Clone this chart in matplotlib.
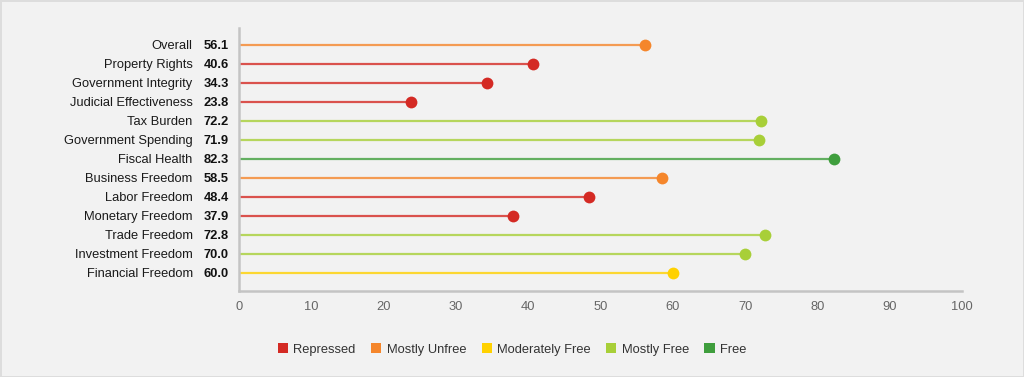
import matplotlib.pyplot as plt
from matplotlib.patches import Patch

plt.rcParams['font.family'] = ['Liberation Sans', 'DejaVu Sans']

categories = ['Overall', 'Property Rights', 'Government Integrity', 'Judicial Effectiveness',
              'Tax Burden', 'Government Spending', 'Fiscal Health', 'Business Freedom',
              'Labor Freedom', 'Monetary Freedom', 'Trade Freedom', 'Investment Freedom',
              'Financial Freedom']
scores = [56.1, 40.6, 34.3, 23.8, 72.2, 71.9, 82.3, 58.5, 48.4, 37.9, 72.8, 70.0, 60.0]

bands = ['Repressed', 'Mostly Unfree', 'Moderately Free', 'Mostly Free', 'Free']
band_colors = ['#d42a24', '#f5862b', '#ffd100', '#a8cf38', '#3f9e3d']
band_edges = [50, 60, 70, 80]

def band_of(v):
    for i, e in enumerate(band_edges):
        if v < e:
            return i
    return len(band_edges)

fig = plt.figure(figsize=(10.24, 3.77), dpi=100, facecolor='#f2f2f2',
                 edgecolor='#dddddd', linewidth=1)
ax = fig.add_axes([0.2334, 0.2281, 0.7061, 0.6976])
ax.set_facecolor('#f2f2f2')

for i, (cat, v) in enumerate(zip(categories, scores)):
    c = band_colors[band_of(v)]
    ax.plot([0, v], [i, i], color=c, lw=1.6, alpha=0.8, solid_capstyle='butt', zorder=2)
    ax.plot(v, i, 'o', color=c, ms=8.5, mec='none', zorder=3)
    ax.text(-0.064, i + 0.05, cat, transform=ax.get_yaxis_transform(), ha='right', va='center',
            fontsize=9.3, color='#1a1a1a')
    ax.text(-0.014, i + 0.05, f'{v:.1f}', transform=ax.get_yaxis_transform(), ha='right',
            va='center', fontsize=9.3, fontweight='bold', color='#111111')

ax.set_xlim(0, 100)
ax.set_ylim(12.95, -0.9)
ax.set_xticks(range(0, 101, 10))
ax.set_yticks([])
ax.tick_params(axis='x', length=0, pad=7, labelsize=9.3, labelcolor='#666666')
for s in ['top', 'right']:
    ax.spines[s].set_visible(False)
for s in ['left', 'bottom']:
    ax.spines[s].set_color('#c4c4c4')
    ax.spines[s].set_linewidth(1.8)

handles = [Patch(facecolor=c, edgecolor='none') for c in band_colors]
fig.legend(handles, bands, loc='center', bbox_to_anchor=(0.5, 0.073), ncol=5, frameon=False,
           fontsize=9.3, handlelength=0.8, handleheight=0.8, handletextpad=0.4,
           columnspacing=1.2, labelcolor='#333333')

fig.savefig('out.png', dpi=100, facecolor=fig.get_facecolor(), edgecolor=fig.get_edgecolor())
